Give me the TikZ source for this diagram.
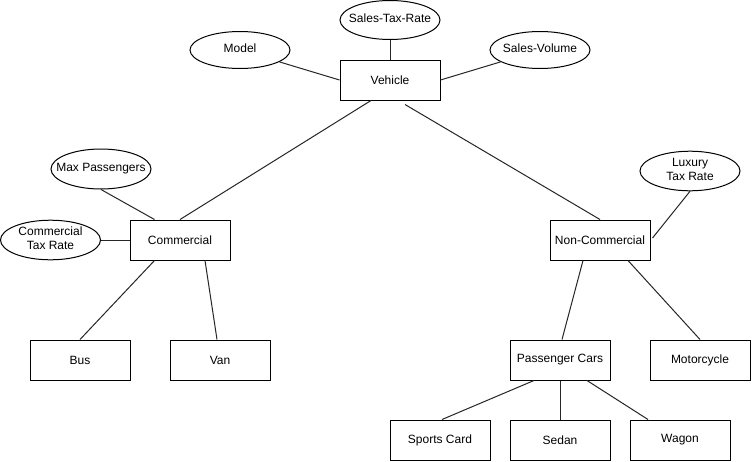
\documentclass[tikz,border=0pt]{standalone}
\usepackage{fontspec}
\setmainfont{Liberation Sans}
\usetikzlibrary{shapes.geometric,calc}
\newcommand\attrtxt[1]{\makebox[0pt][c]{\begin{tabular}{@{}c@{}}#1\end{tabular}}}
\begin{document}
\begin{tikzpicture}[x=1pt,y=-1pt,
  every node/.style={font=\fontsize{12}{14}\selectfont, text=black},
  ent/.style={draw, rectangle, minimum width=100pt, minimum height=40pt, inner sep=0pt, line width=1pt},
  attr/.style={draw, ellipse, minimum width=100pt, minimum height=37pt, inner sep=0pt, line width=1pt},
  conn/.style={line width=1pt, draw=black!85}]
\useasboundingbox (0,0) rectangle (752,461);
\fill[white] (0,0) rectangle (752,461);
% entities
\node[ent] (veh) at (390,80) {Vehicle};
\node[ent] (com) at (180,240) {Commercial};
\node[ent] (nc) at (600,240) {Non-Commercial};
\node[ent] (bus) at (80,360) {Bus};
\node[ent] (van) at (220,360) {Van};
\node[ent] (pc) at (560,360) {Passenger Cars};
\node[ent] (moto) at (700,360) {Motorcycle};
\node[ent] (sc) at (440,440) {Sports Card};
\node[ent] (sedan) at (560,440) {Sedan};
\node[ent] (wagon) at (680,440) {Wagon};
% attributes
\node[attr, minimum height=39pt] (str) at (390,20) {\attrtxt{Sales-Tax-Rate}};
\node[attr] (model) at (240,50) {\attrtxt{Model}};
\node[attr] (sv) at (540,50) {\attrtxt{Sales-Volume}};
\node[attr, minimum height=40pt] (maxp) at (101,169) {\attrtxt{Max Passengers}};
\node[attr] (ctr) at (50.5,240) {\attrtxt{Commercial\\Tax Rate}};
\node[attr, minimum height=38pt] (lux) at (690,171) {\attrtxt{Luxury\\Tax Rate}};
% connectors
\draw[conn] (str.south) -- (veh.north);
\draw[conn] (model) -- (veh.west);
\draw[conn] (sv) -- (veh.east);
\draw[conn] ($(veh.south)+(-19,0)$) -- (com.north);
\draw[conn] ($(veh.south)+(15,4)$) -- (nc.north);
\draw[conn] (maxp.south) -- ($(com.north west)+(25,0)$);
\draw[conn] (ctr.east) -- (com.west);
\draw[conn] (lux.south) -- ($(nc.east)+(2,-2)$);
\draw[conn] ($(com.south west)+(25,0)$) -- (bus.north);
\draw[conn] ($(com.south)+(25,0)$) -- ($(van.north)+(-3,0)$);
\draw[conn] ($(nc.south)+(-17,0)$) -- ($(pc.north)+(2,0)$);
\draw[conn] ($(nc.south)+(28,0)$) -- (moto.north);
\draw[conn] ($(pc.south)+(-26,0)$) -- ($(sc.north)+(2,0)$);
\draw[conn] (pc.south) -- (sedan.north);
\draw[conn] ($(pc.south)+(27,0)$) -- ($(wagon.north)+(-32,0)$);
\end{tikzpicture}
\end{document}
